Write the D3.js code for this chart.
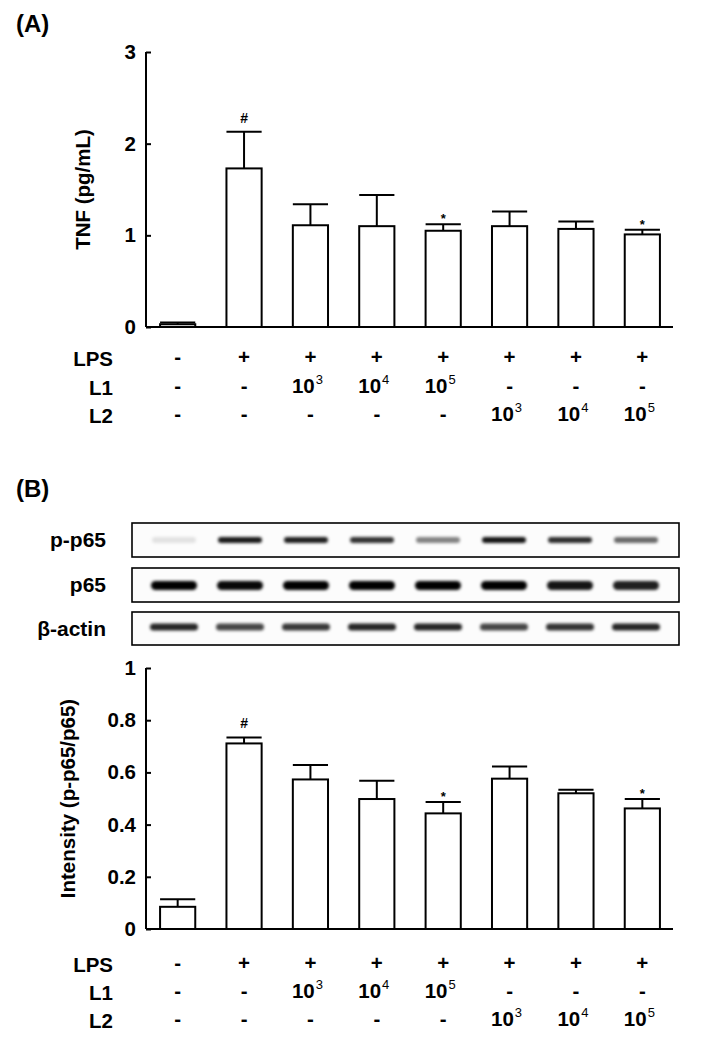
<!DOCTYPE html>
<html><head><meta charset="utf-8">
<script src="https://cdn.jsdelivr.net/npm/d3@7"></script>
<style>
html,body{margin:0;padding:0;background:#fff;}
svg text{font-family:Arial,"Liberation Sans",sans-serif;font-weight:bold;fill:#000;}
</style></head>
<body>
<svg id="fig" width="707" height="1046"></svg>
<script>
// ---------- data ----------
const groups = ["g1","g2","g3","g4","g5","g6","g7","g8"];
const lpsRow = ["-","+","+","+","+","+","+","+"];
const l1Row  = ["-","-","10^3","10^4","10^5","-","-","-"];
const l2Row  = ["-","-","-","-","-","10^3","10^4","10^5"];
const rowLabels = ["LPS","L1","L2"];

const tnfMean = [0.03,1.73,1.11,1.10,1.05,1.10,1.07,1.01];
const tnfErr  = [0.02,0.40,0.23,0.34,0.07,0.16,0.08,0.05];
const tnfSig  = ["","#","","","*","","","*"];
const tnfTicks = [0,1,2,3];

const intMean = [0.085,0.711,0.573,0.498,0.443,0.576,0.520,0.462];
const intErr  = [0.029,0.023,0.055,0.070,0.044,0.047,0.014,0.036];
const intSig  = ["","#","","","*","","","*"];
const intTicks = [0,0.2,0.4,0.6,0.8,1];

const blotRows = ["p-p65","p65","β-actin"];
const pp65Band  = [0.10,0.90,0.88,0.80,0.48,0.92,0.82,0.58];
const p65Band   = [1.00,0.97,1.00,1.00,1.00,1.00,0.92,0.88];
const actinBand = [0.85,0.72,0.78,0.85,0.85,0.72,0.80,0.85];

// ---------- helpers ----------
const svg = d3.select("#fig");
const X0 = 146, X1 = 674;
const x = d3.scaleBand().domain(groups).range([X0, X1]).paddingInner(0.47).paddingOuter(0.212);

const defs = svg.append("defs");
defs.append("filter").attr("id","blur").attr("x","-50%").attr("y","-200%").attr("width","200%").attr("height","500%")
  .append("feGaussianBlur").attr("stdDeviation","1.8");

function panel(mean, err, sig, ticks, yTop, yBot, dmax, title, tableBase, rowGap) {
  const g = svg.append("g");
  const y = d3.scaleLinear().domain([0, dmax]).range([yBot, yTop]);
  const ax = d3.axisLeft(y).tickValues(ticks).tickSize(-5).tickPadding(15)
     .tickFormat(d => d3.format("~g")(d));
  const ag = g.append("g").attr("transform", `translate(${X0},0)`).call(ax);
  ag.select(".domain").attr("stroke","#000").attr("stroke-width",2).attr("d", `M0,${yTop}V${yBot}`);
  ag.selectAll(".tick line").attr("stroke","#000").attr("stroke-width",2);
  ag.selectAll(".tick text").attr("font-size",20.5).attr("font-family","Arial, 'Liberation Sans', sans-serif")
    .attr("font-weight","bold").attr("x",-10);
  g.append("line").attr("x1",X0).attr("x2",X1-1).attr("y1",yBot).attr("y2",yBot)
    .attr("stroke","#000").attr("stroke-width",2);
  const bw = x.bandwidth();
  g.selectAll("rect.bar").data(groups).join("rect").attr("class","bar")
    .attr("x", d => x(d)).attr("width", bw)
    .attr("y", (d,i) => y(mean[i])).attr("height",(d,i)=> yBot - y(mean[i]))
    .attr("fill","#fff").attr("stroke","#000").attr("stroke-width",2);
  g.selectAll("line.ev").data(groups).join("line").attr("class","ev")
    .attr("x1", d => x(d)+bw/2).attr("x2", d => x(d)+bw/2)
    .attr("y1", (d,i)=> y(mean[i])).attr("y2",(d,i)=> y(mean[i]+err[i]))
    .attr("stroke","#000").attr("stroke-width",2);
  g.selectAll("line.ec").data(groups).join("line").attr("class","ec")
    .attr("x1", d => x(d)).attr("x2", d => x(d)+bw)
    .attr("y1", (d,i)=> y(mean[i]+err[i])).attr("y2",(d,i)=> y(mean[i]+err[i]))
    .attr("stroke","#000").attr("stroke-width",2);
  g.selectAll("text.sig").data(groups).join("text").attr("class","sig")
    .attr("x", d => x(d)+bw/2)
    .attr("y", (d,i)=> y(mean[i]+err[i]) - (sig[i]==="#" ? 9 : 1))
    .attr("text-anchor","middle")
    .attr("font-size",(d,i)=> sig[i]==="#" ? 14 : 13)
    .text((d,i)=> sig[i]);
  g.append("text").attr("transform",`translate(${title.x},${(yTop+yBot)/2}) rotate(-90)`)
    .attr("text-anchor","middle").attr("font-size",title.size).text(title.text);
  [lpsRow,l1Row,l2Row].forEach((row,ri) => {
    const by = tableBase + ri*rowGap;
    g.append("text").attr("x",113).attr("y",by).attr("text-anchor","end").attr("font-size",20.5).text(rowLabels[ri]);
    row.forEach((v,ci) => {
      const t = g.append("text").attr("x", x(groups[ci])+bw/2).attr("y", by-2)
        .attr("text-anchor","middle").attr("font-size",20.5);
      if (v.includes("^")) {
        const [b,s] = v.split("^");
        t.attr("x", x(groups[ci])+bw/2 - 3);
        t.append("tspan").text(b);
        t.append("tspan").attr("dy",-9).attr("font-size",13).attr("font-weight","normal").attr("dx",1).text(s);
      } else {
        t.text(v);
      }
    });
  });
  return g;
}

svg.append("text").attr("x",16).attr("y",32).attr("font-size",24).text("(A)");
svg.append("text").attr("x",16).attr("y",497).attr("font-size",24).text("(B)");

panel(tnfMean, tnfErr, tnfSig, tnfTicks, 52, 327, 3,
      {x: 90, size: 20.5, text: "TNF (pg/mL)"}, 366, 28.5);

const lane = d3.scalePoint().domain(groups).range([174, 636]);
const boxes = [
  {y:523, h:34, vals:pp65Band, bh:6, bw:44, cy:540},
  {y:568, h:34, vals:p65Band, bh:9, bw:46, cy:585.5},
  {y:612, h:33, vals:actinBand, bh:7, bw:48, cy:627}
];
boxes.forEach((b,bi) => {
  const g = svg.append("g");
  g.append("rect").attr("x",132).attr("y",b.y).attr("width",547).attr("height",b.h)
    .attr("fill","#fcfcfc").attr("stroke","#000").attr("stroke-width",1.6);
  g.selectAll("rect.band").data(groups).join("rect").attr("class","band")
    .attr("x", d => lane(d)-b.bw/2).attr("width", b.bw)
    .attr("y", b.cy - b.bh/2).attr("height", b.bh).attr("rx", b.bh/2)
    .attr("fill","#000").attr("fill-opacity",(d,i)=> b.vals[i])
    .attr("filter","url(#blur)");
  g.append("text").attr("x",106).attr("y",b.y+b.h/2+7).attr("text-anchor","end")
    .attr("font-size",21).text(blotRows[bi]);
});

panel(intMean, intErr, intSig, intTicks, 668, 929, 1,
      {x: 75, size: 20.5, text: "Intensity (p-p65/p65)"}, 972, 28);
</script>
</body></html>
